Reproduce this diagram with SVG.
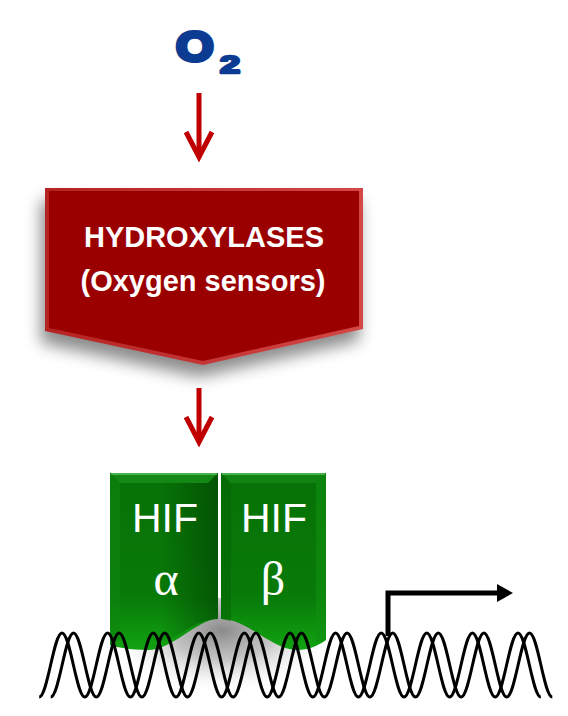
<svg xmlns="http://www.w3.org/2000/svg" width="568" height="716" viewBox="0 0 568 716">
<defs>
<style>
.lbl{font-family:"Liberation Sans",Arial,sans-serif;fill:#fff}
.bold{font-weight:bold}
.greek{font-family:"Liberation Serif","Times New Roman",serif;fill:#fff}
.o2{font-family:"Liberation Sans",Arial,sans-serif;font-weight:bold;fill:#0c3c91;stroke:#0c3c91;stroke-linejoin:round}
.red-arrow{stroke:#c00000;stroke-width:5;fill:none;marker-end:url(#chev)}
.strand{stroke:#000;stroke-width:3;fill:none}
</style>
<marker id="chev" markerUnits="userSpaceOnUse" viewBox="-30 -20 40 40" markerWidth="40" markerHeight="40" refX="0" refY="0" orient="auto" overflow="visible">
<path d="M-25,-13 L0,0 L-25,13" fill="none" stroke="#c00000" stroke-width="5"/>
</marker>
<marker id="tri" markerUnits="userSpaceOnUse" viewBox="0 -10 20 20" markerWidth="20" markerHeight="20" refX="0" refY="0" orient="auto" overflow="visible">
<path d="M0,-9 L16,0 L0,9 Z" fill="#000"/>
</marker>
<filter id="blur" x="-20%" y="-20%" width="140%" height="160%"><feGaussianBlur stdDeviation="8"/></filter>
<linearGradient id="bevelRed" x1="0" y1="0" x2="1" y2="0">
<stop offset="0" stop-color="#b52222"/><stop offset="1" stop-color="#d44848"/>
</linearGradient>
<linearGradient id="gGreen" x1="0" y1="0" x2="0" y2="1">
<stop offset="0" stop-color="#077107"/><stop offset="0.7" stop-color="#087a08"/><stop offset="1" stop-color="#12a312"/>
</linearGradient>
<linearGradient id="gDark" x1="0" y1="0" x2="1" y2="0">
<stop offset="0" stop-color="#003a00" stop-opacity="0"/><stop offset="1" stop-color="#003a00" stop-opacity="0.55"/>
</linearGradient>
<radialGradient id="hump" cx="0.5" cy="0.3" r="0.6">
<stop offset="0" stop-color="#8a8a8a"/><stop offset="0.45" stop-color="#b5b5b5" stop-opacity="0.8"/><stop offset="1" stop-color="#fff" stop-opacity="0"/>
</radialGradient>
</defs>
<rect width="568" height="716" fill="#fff"/>

<g id="node-o2">
<text class="o2" transform="translate(176,61) scale(1.15,1)" x="0" y="0" style="font-size:42px" stroke-width="4">O</text>
<text class="o2" transform="translate(220,73) scale(1.5,1)" x="0" y="0" style="font-size:24px" stroke-width="2.5">2</text>
</g>

<g id="node-hydroxylases">
<polygon points="41,200 359,200 359,341 199,377 41,343" fill="#000" opacity="0.45" filter="url(#blur)"/>
<polygon points="45,188 363,188 363,329 203,365 45,331" fill="url(#bevelRed)"/>
<polygon points="49,191 359,191 359,326 203,361 49,328" fill="#9b0000"/>
<text class="lbl bold" x="204" y="247" font-size="29" text-anchor="middle">HYDROXYLASES</text>
<text class="lbl bold" x="203" y="291" font-size="29" text-anchor="middle">(Oxygen sensors)</text>
</g>

<g id="hump-shadow">
<ellipse cx="222" cy="652" rx="95" ry="54" fill="url(#hump)"/>
</g>

<g id="node-hif-alpha">
<path d="M110,473 H218 V619 C198,619 172,650 148,650 C130,650 116,647 110,645 Z" fill="url(#gGreen)"/>
<path d="M160,473 H218 V619 C198,619 180,635 160,645 Z" fill="url(#gDark)"/>
<polygon points="110,473 120,483 120,640 110,645" fill="#0f860f" opacity="0.6"/>
<polygon points="110,473 218,473 208,483 120,483" fill="#148814"/>
<line x1="111" y1="474" x2="217" y2="474" stroke="#5cc05c" stroke-width="1.5"/>
<text class="lbl" x="165" y="532" font-size="41" text-anchor="middle">HIF</text>
<text class="greek" x="166" y="595" font-size="48" text-anchor="middle">α</text>
</g>

<g id="node-hif-beta">
<path d="M221,473 H326 V640 C318,646 308,650 297,650 C272,650 248,619 221,619 Z" fill="url(#gGreen)"/>
<polygon points="326,473 316,483 316,642 326,640" fill="#109010" opacity="0.6"/>
<polygon points="221,473 231,483 231,621 221,619" fill="#056505" opacity="0.6"/>
<polygon points="221,473 326,473 316,483 231,483" fill="#118311"/>
<line x1="222" y1="474" x2="325" y2="474" stroke="#5cc05c" stroke-width="1.5"/>
<text class="lbl" x="274" y="532" font-size="41" text-anchor="middle">HIF</text>
<text class="greek" x="273" y="595" font-size="48" text-anchor="middle">β</text>
</g>

<g id="dna">
<path class="strand" d="M39.2,697 c8.3,0 14.5,-64 22.8,-64 s14.5,64 22.8,64 s14.5,-64 22.8,-64 s14.5,64 22.8,64 s14.5,-64 22.8,-64 s14.5,64 22.8,64 s14.5,-64 22.8,-64 s14.5,64 22.8,64 s14.5,-64 22.8,-64 s14.5,64 22.8,64 s14.5,-64 22.8,-64 s14.5,64 22.8,64 s14.5,-64 22.8,-64 s14.5,64 22.8,64 s14.5,-64 22.8,-64 s14.5,64 22.8,64 s14.5,-64 22.8,-64 s14.5,64 22.8,64 s14.5,-64 22.8,-64 s14.5,64 22.8,64 s14.5,-64 22.8,-64 s14.5,64 22.8,64"/>
<path class="strand" d="M50.7,697 c8.3,0 14.5,-64 22.8,-64 s14.5,64 22.8,64 s14.5,-64 22.8,-64 s14.5,64 22.8,64 s14.5,-64 22.8,-64 s14.5,64 22.8,64 s14.5,-64 22.8,-64 s14.5,64 22.8,64 s14.5,-64 22.8,-64 s14.5,64 22.8,64 s14.5,-64 22.8,-64 s14.5,64 22.8,64 s14.5,-64 22.8,-64 s14.5,64 22.8,64 s14.5,-64 22.8,-64 s14.5,64 22.8,64 s14.5,-64 22.8,-64 s14.5,64 22.8,64 s14.5,-64 22.8,-64 s14.5,64 22.8,64 s14.5,-64 22.8,-64 s14.5,64 22.8,64"/>
</g>

<g id="connectors">
<path class="red-arrow" d="M199,93 V157"/>
<path class="red-arrow" d="M199,388 V442"/>
<path id="promoter" d="M388,636 V593 H497" fill="none" stroke="#000" stroke-width="5" stroke-linejoin="miter" marker-end="url(#tri)"/>
</g>
</svg>
